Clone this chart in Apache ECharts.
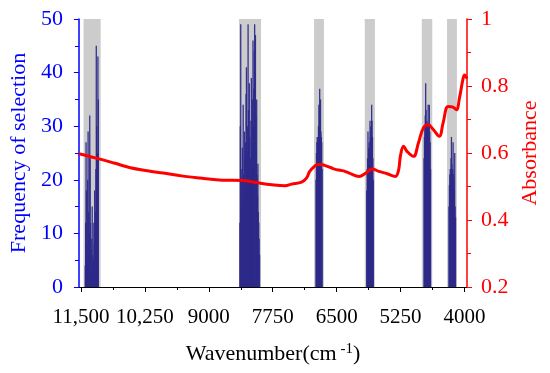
<!DOCTYPE html>
<html>
<head>
<meta charset="utf-8">
<script src="https://cdn.jsdelivr.net/npm/echarts@6/dist/echarts.min.js"></script>
<style>
html,body{margin:0;padding:0;background:#fff;}
#c{width:550px;height:373px;}
</style>
</head>
<body>
<div id="c"></div>
<script>
// ---- Data ----
const wnTickValues = [11500, 10250, 9000, 7750, 6500, 5250, 4000];
const wnTickLabels = ['11,500', '10,250', '9000', '7750', '6500', '5250', '4000'];
const wnMinorTicks = [10875, 9625, 8375, 7125, 5875, 4625];

// selected regions (grey bands), wavenumber from / to
const bandFrom = [11449, 8410, 6942, 5951, 4836, 4342];
const bandTo   = [11114, 7979, 6749, 5752, 4631, 4149];

// frequency of selection, per band
const band1Wn = [11416,11408,11400,11392,11384,11376,11368,11360,11352,11344,11336,11328,11320,11312,11304,11296,11288,11280,11272,11264,11256,11248,11240,11232,11224,11216,11208,11200,11192,11184,11176,11168,11160];
const band1Freq = [4,12,27,18,8,5,20,29,14,6,10,32,24,12,7,3,9,15,6,4,5,12,8,18,10,14,22,45,30,20,25,43,35];

const band2Wn = [8392,8384,8376,8368,8360,8352,8344,8336,8328,8320,8312,8304,8296,8288,8280,8272,8264,8256,8248,8240,8232,8224,8216,8208,8200,8192,8184,8176,8168,8160,8152,8144,8136,8128,8120,8112,8104,8096,8088,8080,8072,8064,8056,8048,8040,8032,8024,8016,8008];
const band2Freq = [12,30,49,22,15,20,26,18,34,21,16,29,24,19,27,36,41,25,22,30,49,33,26,38,28,20,24,31,39,27,22,35,46,30,37,44,49,40,47,32,26,35,21,17,23,14,12,9,6];

const band3Wn = [6904,6896,6888,6880,6872,6864,6856,6848,6840,6832,6824,6816,6808,6800,6792,6784];
const band3Freq = [20,25,27,28,27,28,30,34,28,37,31,35,29,28,27,22];

const band4Wn = [5912,5904,5896,5888,5880,5872,5864,5856,5848,5840,5832,5824,5816,5808,5800,5792,5784];
const band4Freq = [18,22,24,29,23,26,27,25,31,28,30,29,34,31,28,24,20];

const band5Wn = [4792,4784,4776,4768,4760,4752,4744,4736,4728,4720,4712,4704,4696,4688,4680,4672,4664];
const band5Freq = [24,28,30,32,38,33,30,31,30,29,34,30,28,34,29,27,22];

const band6Wn = [4304,4296,4288,4280,4272,4264,4256,4248,4240,4232,4224,4216,4208,4200,4192,4184,4176];
const band6Freq = [15,19,21,22,21,24,28,23,21,22,27,21,20,18,25,15,13];

// absorbance spectrum
const absWn = [11540,11180,10850,10534,10200,9891,9505,9100,8732,8346,8089,7766,7510,7380,7187,7091,7027,6930,6864,6801,6737,6607,6544,6413,6350,6254,6061,5931,5802,5675,5512,5352,5288,5255,5192,5126,4999,4902,4805,4709,4612,4496,4419,4322,4226,4160,4097,4033,4000,3965,3952];
const absVal = [0.598,0.584,0.570,0.556,0.547,0.540,0.531,0.524,0.519,0.518,0.512,0.505,0.502,0.507,0.513,0.525,0.545,0.561,0.566,0.566,0.563,0.556,0.552,0.548,0.546,0.540,0.530,0.540,0.552,0.545,0.538,0.530,0.550,0.590,0.620,0.605,0.590,0.630,0.675,0.684,0.670,0.650,0.690,0.739,0.737,0.729,0.766,0.819,0.833,0.826,0.822];

// ---- Build ----
const font = "'Liberation Serif', 'Times New Roman', serif";
const freqData = [];
[[band1Wn, band1Freq],[band2Wn, band2Freq],[band3Wn, band3Freq],[band4Wn, band4Freq],[band5Wn, band5Freq],[band6Wn, band6Freq]]
  .forEach(([w, f]) => w.forEach((x, i) => freqData.push([x, f[i]])));
const absData = absWn.map((w, i) => [w, absVal[i]]);
const areas = bandFrom.map((f, i) => [{xAxis: f}, {xAxis: bandTo[i]}]);

const chart = echarts.init(document.getElementById('c'), null, {renderer: 'canvas'});
const xCommon = {
  type: 'value', inverse: true, min: 3952, max: 11540, position: 'bottom',
  splitLine: {show: false}
};
chart.setOption({
  animation: false,
  backgroundColor: '#fff',
  grid: {left: 75, right: 83, top: 19, bottom: 86, containLabel: false},
  xAxis: [
    Object.assign({}, xCommon, {
      axisLine: {show: true, lineStyle: {color: '#000', width: 1}},
      axisTick: {show: true, inside: false, length: 5, customValues: wnTickValues, lineStyle: {color: '#000', width: 1}},
      axisLabel: {show: true, customValues: wnTickValues, margin: 20, color: '#000', fontFamily: font, fontSize: 21,
        formatter: v => { const i = wnTickValues.indexOf(v); return i >= 0 ? wnTickLabels[i] : ''; }},
      name: 'Wavenumber(cm{sup| -1})', nameLocation: 'middle', nameGap: 55,
      nameTextStyle: {color: '#000', fontFamily: font, fontSize: 22,
        rich: {sup: {fontFamily: font, fontSize: 15, color: '#000', verticalAlign: 'top', padding: [0, 0, 10, 0]}}}
    }),
    Object.assign({}, xCommon, {
      axisLine: {show: false},
      axisTick: {show: true, length: 3, customValues: wnMinorTicks, lineStyle: {color: '#000', width: 1}},
      axisLabel: {show: false}
    })
  ],
  yAxis: [
    {
      type: 'value', min: 0, max: 50, interval: 10, position: 'left',
      axisLine: {show: true, lineStyle: {color: '#0000ff', width: 1.5}},
      axisTick: {show: true, length: 5, lineStyle: {color: '#0000ff'}},
      minorTick: {show: true, splitNumber: 2, length: 4, lineStyle: {color: '#0000ff'}},
      splitLine: {show: false},
      axisLabel: {color: '#0000ff', fontFamily: font, fontSize: 22, margin: 16},
      name: 'Frequency of selection', nameLocation: 'middle', nameRotate: 90, nameGap: 48,
      nameTextStyle: {color: '#0000ff', fontFamily: font, fontSize: 22}
    },
    {
      type: 'value', min: 0.2, max: 1, interval: 0.2, position: 'right',
      axisLine: {show: true, lineStyle: {color: '#ff0000', width: 1.5}},
      axisTick: {show: true, length: 5, lineStyle: {color: '#ff0000'}},
      minorTick: {show: true, splitNumber: 2, length: 4, lineStyle: {color: '#ff0000'}},
      splitLine: {show: false},
      axisLabel: {color: '#ff0000', fontFamily: font, fontSize: 22, margin: 14,
        formatter: v => (Math.round(v * 10) / 10).toString()},
      name: 'Absorbance', nameLocation: 'middle', nameRotate: 90, nameGap: 52,
      nameTextStyle: {color: '#ff0000', fontFamily: font, fontSize: 22}
    }
  ],
  series: [
    {
      type: 'line', data: [], xAxisIndex: 0, yAxisIndex: 0, z: 1, silent: true,
      markArea: {silent: true, itemStyle: {color: '#cccccc'}, data: areas}
    },
    {
      type: 'bar', data: freqData, xAxisIndex: 0, yAxisIndex: 0, z: 2,
      barWidth: 1.3, itemStyle: {color: '#2d2a8a', opacity: 0.95}, silent: true
    },
    {
      type: 'line', data: absData, xAxisIndex: 0, yAxisIndex: 1, z: 3,
      smooth: 0.4, symbol: 'none', lineStyle: {color: '#ff0000', width: 3}, silent: true
    }
  ]
});
</script>
</body>
</html>
